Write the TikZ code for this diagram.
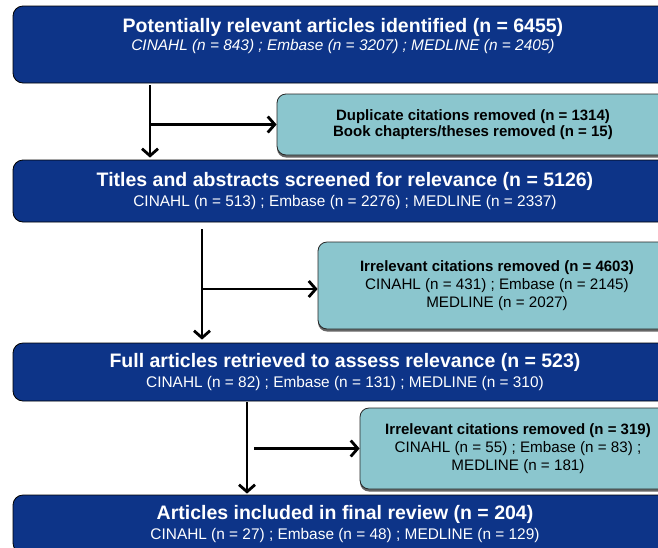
\documentclass[tikz,border=0pt]{standalone}
\usepackage{fontspec}
\setmainfont{Liberation Sans}
\usetikzlibrary{arrows.meta,shadows}
\definecolor{navybox}{HTML}{0D3488}
\definecolor{sideteal}{HTML}{8BC6CE}
\newcommand{\ttlfont}{\fontsize{19.5}{20}\selectfont\bfseries}
\newcommand{\subfnt}{\fontsize{15.4}{20}\selectfont}
\newcommand{\sidebf}{\fontsize{15}{18}\selectfont\bfseries}
\newcommand{\sidert}{\fontsize{15.2}{18}\selectfont}
\begin{document}
\begin{tikzpicture}[x=1pt,y=-1pt,
  mainbox/.style={draw=black, line width=0.8pt, fill=navybox, rounded corners=10pt,
    minimum width=664pt, inner sep=0pt, text=white, align=center,
    font=\fontsize{15.4}{19.8}\selectfont},
  sidebox/.style={draw=black!85, line width=0.8pt, fill=sideteal, rounded corners=9pt,
    inner sep=0pt, align=center, font=\fontsize{15}{18}\selectfont,
    drop shadow={shadow xshift=0pt, shadow yshift=-2.5pt, fill=black!60, opacity=1}},
  arr/.style={line width=2.8pt, -{Straight Barb[length=7pt,width=16pt]}}]
\useasboundingbox (0,0) rectangle (658,547);
\clip (0,0) rectangle (658,547);
\fill[white] (0,0) rectangle (658,547);

% arrows' x positions
\coordinate (x1) at (150,0);
\coordinate (x2) at (202,0);
\coordinate (x3) at (247,0);
\coordinate (x3h) at (254,0);

% main boxes
\node[mainbox, minimum height=77pt] (b1) at (345,44.5) {};
\node[text=white, align=center, inner sep=0pt, font=\fontsize{15.4}{18.4}\selectfont] (t1) at (343,36)
  {{\ttlfont Potentially relevant articles identified (n = 6455)}\\
   {\subfnt\itshape CINAHL (n = 843) ; Embase (n = 3207) ; MEDLINE (n = 2405)}};

\node[mainbox, minimum height=62pt] (b2) at (345,191)
  {{\ttlfont Titles and abstracts screened for relevance (n = 5126)}\\
   {\subfnt CINAHL (n = 513) ; Embase (n = 2276) ; MEDLINE (n = 2337)}};

\node[mainbox, minimum height=58pt] (b3) at (345,372)
  {{\ttlfont Full articles retrieved to assess relevance (n = 523)}\\
   {\subfnt CINAHL (n = 82) ; Embase (n = 131) ; MEDLINE (n = 310)}};

\node[mainbox, minimum height=58pt] (b4) at (345,524)
  {{\ttlfont Articles included in final review (n = 204)}\\
   {\subfnt CINAHL (n = 27) ; Embase (n = 48) ; MEDLINE (n = 129)}};

% side boxes
\node[sidebox, minimum width=392pt, minimum height=61pt, font=\fontsize{15}{16.5}\selectfont] (s1) at (473,124.5)
  {{\sidebf Duplicate citations removed (n = 1314)}\\
   {\sidebf Book chapters/theses removed (n = 15)}};

\node[sidebox, minimum width=358pt, minimum height=87pt] (s2) at (497,285.5)
  {{\sidebf Irrelevant citations removed (n = 4603)}\\
   {\sidert CINAHL (n = 431) ; Embase (n = 2145)}\\
   {\sidert MEDLINE (n = 2027)}};

\node[sidebox, minimum width=316pt, minimum height=81pt] (s3) at (518,448.5)
  {{\sidebf Irrelevant citations removed (n = 319)}\\
   {\sidert CINAHL (n = 55) ; Embase (n = 83) ;}\\
   {\sidert MEDLINE (n = 181)}};

% connectors
\draw[arr, shorten <=2pt, shorten >=2pt] (b1.south -| x1) -- (b2.north -| x1);
\draw[arr] (x1 |- s1.west) -- (s1.west);

\draw[arr, shorten <=7pt, shorten >=3pt] (b2.south -| x2) -- (b3.north -| x2);
\draw[arr] ([yshift=-3.5pt]x2 |- s2.west) -- ([yshift=-3.5pt]s2.west);

\draw[arr, shorten <=1pt, shorten >=1pt] (b3.south -| x3) -- (b4.north -| x3);
\draw[arr] (x3h |- s3.west) -- (s3.west);
\end{tikzpicture}
\end{document}
